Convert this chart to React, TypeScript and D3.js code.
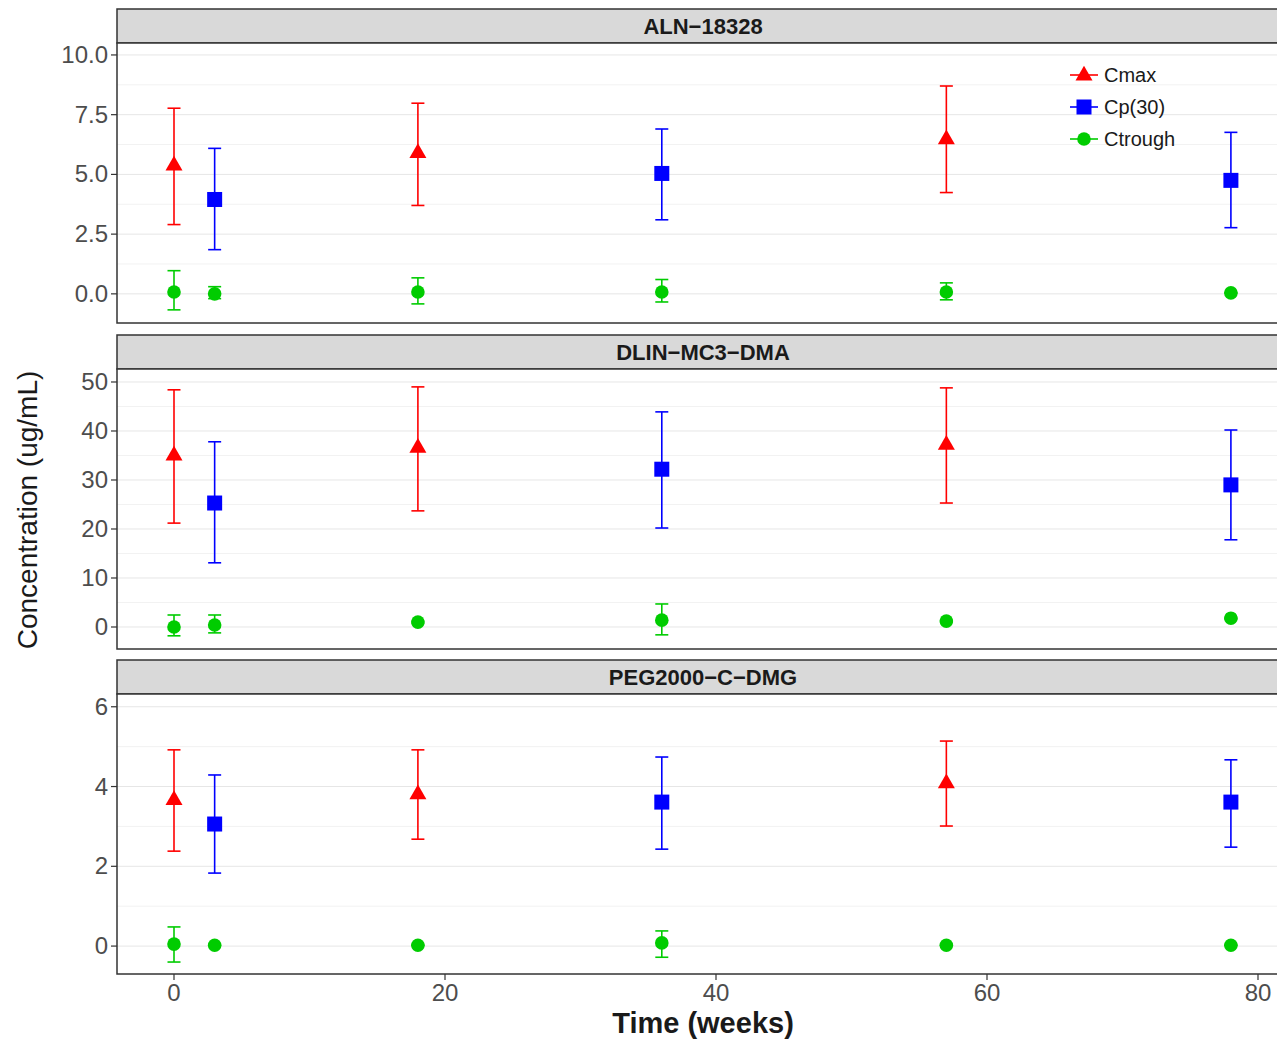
import React from "react";
import * as d3 from "d3";

const weeks = [0, 3, 18, 36, 57, 78];
const seriesNames = ["Cmax", "Cp(30)", "Ctrough"];
const seriesColors = ["#ff0000", "#0000ff", "#00cc00"];
const panelNames = ["ALN\u221218328", "DLIN\u2212MC3\u2212DMA", "PEG2000\u2212C\u2212DMG"];

// [week, mean, lower, upper]
const alnCmax = [[0, 5.4, 2.9, 7.77], [18, 5.92, 3.7, 7.98], [57, 6.5, 4.24, 8.7]];
const alnCp = [[3, 3.95, 1.85, 6.09], [36, 5.04, 3.1, 6.9], [78, 4.75, 2.77, 6.76]];
const alnCt = [[0, 0.08, -0.67, 0.97], [3, 0.0, -0.2, 0.3], [18, 0.08, -0.42, 0.67], [36, 0.08, -0.34, 0.6], [57, 0.08, -0.25, 0.46], [78, 0.04, 0.02, 0.06]];

const mc3Cmax = [[0, 35.1, 21.2, 48.4], [18, 36.7, 23.7, 49.0], [57, 37.3, 25.3, 48.8]];
const mc3Cp = [[3, 25.3, 13.1, 37.8], [36, 32.2, 20.2, 43.9], [78, 29.0, 17.8, 40.2]];
const mc3Ct = [[0, 0.0, -1.8, 2.45], [3, 0.4, -1.2, 2.45], [18, 1.0, 0.8, 1.2], [36, 1.4, -1.6, 4.7], [57, 1.2, 1.0, 1.4], [78, 1.8, 1.6, 2.0]];

const pegCmax = [[0, 3.68, 2.38, 4.92], [18, 3.82, 2.68, 4.92], [57, 4.1, 3.01, 5.14]];
const pegCp = [[3, 3.06, 1.83, 4.29], [36, 3.61, 2.43, 4.74], [78, 3.61, 2.48, 4.67]];
const pegCt = [[0, 0.05, -0.4, 0.48], [3, 0.02, 0.01, 0.03], [18, 0.02, 0.01, 0.03], [36, 0.08, -0.28, 0.38], [57, 0.02, 0.01, 0.03], [78, 0.02, 0.01, 0.03]];

const panelData = [
  [alnCmax, alnCp, alnCt],
  [mc3Cmax, mc3Cp, mc3Ct],
  [pegCmax, pegCp, pegCt],
];
const yDomains = [[-1.22, 10.5], [-4.49, 52.65], [-0.7, 6.32]];
const yTicks = [[0, 2.5, 5, 7.5, 10], [0, 10, 20, 30, 40, 50], [0, 2, 4, 6]];
const yFormats = [".1f", "d", "d"];
const xTicks = [0, 20, 40, 60, 80];

const panelTops = [9, 335, 660];
const stripH = 34;
const plotH = 280;
const left = 117;
const right = 1289;

const font = "'Liberation Sans', Arial, sans-serif";

function Marker({ shape, x, y, color }: { shape: number; x: number; y: number; color: string }) {
  if (shape === 0) {
    const s = 17;
    const h = s * Math.sqrt(3) / 2;
    const pts = [[x, y - h * 0.62], [x - s / 2, y + h * 0.38], [x + s / 2, y + h * 0.38]];
    return <polygon points={pts.map(p => p.join(",")).join(" ")} fill={color} />;
  }
  if (shape === 1) {
    return <rect x={x - 7.5} y={y - 7.5} width={15} height={15} fill={color} />;
  }
  return <circle cx={x} cy={y} r={6.8} fill={color} />;
}

export default function App() {
  const x = d3.scaleLinear().domain([0, 80]).range([174, 1258]);
  return (
    <svg width={1277} height={1039} style={{ display: "block", position: "absolute", left: 0, top: 0 }} fontFamily={font}>
      <rect width={1277} height={1039} fill="#ffffff" />
      {panelNames.map((name, pi) => {
        const top = panelTops[pi];
        const pTop = top + stripH;
        const pBot = pTop + plotH;
        const y = d3.scaleLinear().domain(yDomains[pi]).range([pBot, pTop]);
        const ticks = yTicks[pi];
        const minor: number[] = [];
        for (let i = 0; i < ticks.length - 1; i++) minor.push((ticks[i] + ticks[i + 1]) / 2);
        const step = ticks[1] - ticks[0];
        minor.push(ticks[0] - step / 2);
        minor.push(ticks[ticks.length - 1] + step / 2);
        const fmt = d3.format(yFormats[pi]);
        return (
          <g key={pi}>
            <rect x={left} y={top} width={right - left} height={stripH} fill="#d9d9d9" stroke="#333333" strokeWidth={1.5} />
            <text x={(left + right) / 2} y={top + stripH / 2 + 8} textAnchor="middle" fontSize={22} fontWeight="bold" fill="#1a1a1a">{name}</text>
            <rect x={left} y={pTop} width={right - left} height={plotH} fill="#ffffff" />
            {minor.filter(v => y(v) > pTop && y(v) < pBot).map((v, i) => (
              <line key={"m" + i} x1={left} x2={right} y1={y(v)} y2={y(v)} stroke="#f2f2f2" strokeWidth={1} />
            ))}
            {ticks.map((v, i) => (
              <line key={"g" + i} x1={left} x2={right} y1={y(v)} y2={y(v)} stroke="#e6e6e6" strokeWidth={1} />
            ))}
            {panelData[pi].map((series, si) => (
              <g key={si}>
                {series.map((d, di) => (
                  <g key={di} stroke={seriesColors[si]} strokeWidth={1.6}>
                    <line x1={x(d[0])} x2={x(d[0])} y1={y(d[2])} y2={y(d[3])} />
                    <line x1={x(d[0]) - 6.5} x2={x(d[0]) + 6.5} y1={y(d[2])} y2={y(d[2])} />
                    <line x1={x(d[0]) - 6.5} x2={x(d[0]) + 6.5} y1={y(d[3])} y2={y(d[3])} />
                  </g>
                ))}
                {series.map((d, di) => (
                  <Marker key={"p" + di} shape={si} x={x(d[0])} y={y(d[1])} color={seriesColors[si]} />
                ))}
              </g>
            ))}
            <rect x={left} y={pTop} width={right - left} height={plotH} fill="none" stroke="#333333" strokeWidth={1.5} />
            {ticks.map((v, i) => (
              <g key={"t" + i}>
                <line x1={left - 6} x2={left} y1={y(v)} y2={y(v)} stroke="#333333" strokeWidth={1.2} />
                <text x={left - 9} y={y(v) + 8} textAnchor="end" fontSize={24} fill="#4d4d4d">{fmt(v)}</text>
              </g>
            ))}
            {pi === 0 && (
              <g>
                {seriesNames.map((s, si) => {
                  const ly = 75 + si * 32;
                  return (
                    <g key={si}>
                      <line x1={1070} x2={1098} y1={ly} y2={ly} stroke={seriesColors[si]} strokeWidth={1.6} />
                      <Marker shape={si} x={1084} y={ly} color={seriesColors[si]} />
                      <text x={1104} y={ly + 7} fontSize={20} fill="#1a1a1a">{s}</text>
                    </g>
                  );
                })}
              </g>
            )}
            {pi === 2 && xTicks.map((v, i) => (
              <g key={"x" + i}>
                <line x1={x(v)} x2={x(v)} y1={pBot} y2={pBot + 6} stroke="#333333" strokeWidth={1.2} />
                <text x={x(v)} y={pBot + 27} textAnchor="middle" fontSize={24} fill="#4d4d4d">{v}</text>
              </g>
            ))}
          </g>
        );
      })}
      <text transform="translate(37,510) rotate(-90)" textAnchor="middle" fontSize={28} fill="#1a1a1a">Concentration (ug/mL)</text>
      <text x={703} y={1033} textAnchor="middle" fontSize={29} fontWeight="bold" fill="#1a1a1a">Time (weeks)</text>
    </svg>
  );
}
